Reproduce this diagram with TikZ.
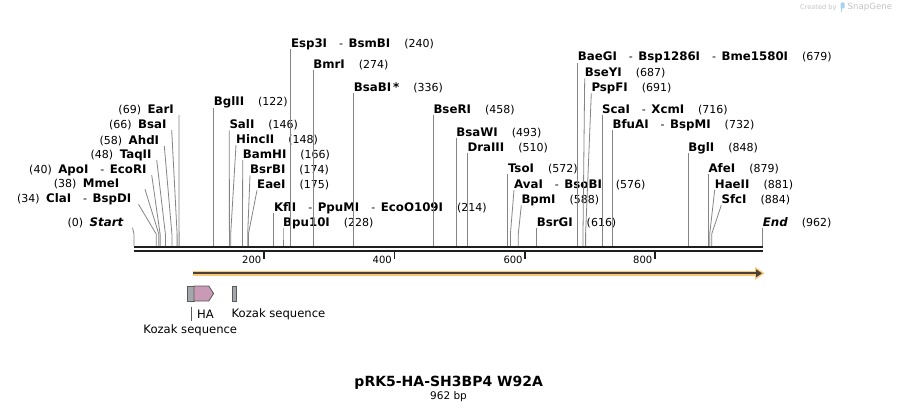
\documentclass[tikz,border=0pt]{standalone}
\usepackage{fontspec}
\setmainfont{DejaVu Sans}
\usetikzlibrary{arrows.meta}
\definecolor{cutgray}{HTML}{858585}
\definecolor{basedark}{HTML}{1E1E1E}
\definecolor{orfouter}{HTML}{F9C978}
\definecolor{orfinner}{HTML}{4A4035}
\definecolor{kozakgray}{HTML}{A4A8AD}
\definecolor{hapink}{HTML}{C99AB6}
\definecolor{featline}{HTML}{5A5A5A}
\definecolor{wmgray}{HTML}{C4C4C4}
\definecolor{wmblue}{HTML}{A6D3F2}
\newcommand\nm[1]{{\fontsize{11.8}{13}\selectfont\bfseries #1}}
\newcommand\sepp{\hspace{12pt}-\hspace{5.5pt}}
\newcommand\rgap{\hspace{14pt}}
\newcommand\lgap{\hspace{6.5pt}}
% right-hand label: id, text x, text y, cut x, content
\newcommand\rcut[5]{%
  \node[lab,anchor=west] (L#1) at (#2,#3) {#5};
  \coordinate (K#1) at (#4,234);
  \coordinate (C#1) at (#4,246);
  \draw[cutline] ([yshift=-6pt]L#1.west) -- (K#1) -- (C#1);
}
% left-hand label: id, text east x, text y, line dx, cut x, content
\newcommand\lcut[6]{%
  \node[lab,anchor=east] (L#1) at (#2,#3) {#6};
  \coordinate (K#1) at (#5,234);
  \coordinate (C#1) at (#5,246);
  \draw[cutline] ([shift={(#4pt,-6pt)}]L#1.east) -- (K#1) -- (C#1);
}
\begin{document}
\begin{tikzpicture}[x=1pt,y=-1pt,
  lab/.style={inner sep=0pt,text height=8.6pt,text depth=0pt,font=\fontsize{11}{12}\selectfont},
  cutline/.style={draw=cutgray,line width=0.8pt},
  tick/.style={draw=basedark,line width=1.8pt},
  ticklab/.style={inner sep=0pt,anchor=east,font=\fontsize{10}{12}\selectfont},
  featlab/.style={inner sep=0pt,font=\fontsize{11.6}{13}\selectfont}]
\useasboundingbox (0,0) rectangle (897,412);
\fill[white] (0,0) rectangle (897,412);

% watermark
\node[inner sep=0pt,anchor=west,text=wmgray,font=\fontsize{6.6}{8}\selectfont] (wm1) at (800,7.3) {Created by};
\fill[wmblue,rounded corners=1pt] (840.5,2.5) rectangle (844.5,8.5);
\fill[wmblue] (840.5,7) rectangle (842.3,12.5);
\node[inner sep=0pt,anchor=west,text=wmgray,font=\fontsize{8.6}{10}\selectfont] (wm2) at (847.5,7.3) {SnapGene};

% backbone
\coordinate (b0) at (134,247);
\coordinate (b1) at (763,247);
\coordinate (b2) at (134,251.3);
\coordinate (b3) at (763,251.3);
\draw[basedark,line width=2.2pt] (b0) -- (b1);
\draw[basedark,line width=2.3pt] (b2) -- (b3);

% ticks
\foreach \tx/\tl in {264/200,394.5/400,525.3/600,655/800}{
  \draw[tick] (\tx,252.2) -- (\tx,258.5);
  \node[ticklab] at (\tx-2.5,259.5) {\tl};
}

% left labels
\lcut{s0}{123.5}{221.7}{9}{134}{(0)\lgap\nm{\itshape Start}}
\lcut{c34}{131.5}{198.3}{7}{156.2}{(34)\lgap\nm{ClaI}\sepp\nm{BspDI}}
\lcut{c38}{119.5}{183.3}{25.5}{158.8}{(38)\lgap\nm{MmeI}}
\lcut{c40}{146.7}{169}{5}{160.1}{(40)\lgap\nm{ApoI}\sepp\nm{EcoRI}}
\lcut{c48}{151.7}{154}{5}{165.4}{(48)\lgap\nm{TaqII}}
\lcut{c58}{159.3}{140}{5}{171.9}{(58)\lgap\nm{AhdI}}
\lcut{c66}{166.7}{124}{5}{177.1}{(66)\lgap\nm{BsaI}}
\lcut{c69}{174}{109}{5}{179.1}{(69)\lgap\nm{EarI}}

% right labels
\rcut{c122}{213.7}{101.7}{213.7}{\nm{BglII}\rgap(122)}
\rcut{c146}{229.3}{124.3}{229.4}{\nm{SalI}\rgap(146)}
\rcut{c148}{236}{139}{230.7}{\nm{HincII}\rgap(148)}
\rcut{c166}{242.7}{154}{242.5}{\nm{BamHI}\rgap(166)}
\rcut{c174}{250}{169.3}{247.7}{\nm{BsrBI}\rgap(174)}
\rcut{c175}{257}{184.3}{248.4}{\nm{EaeI}\rgap(175)}
\rcut{c214}{273.8}{207.3}{273.8}{\nm{KflI}\sepp\nm{PpuMI}\sepp\nm{EcoO109I}\rgap(214)}
\rcut{c228}{283}{222.3}{283}{\nm{Bpu10I}\rgap(228)}
\rcut{c240}{290.8}{43}{290.8}{\nm{Esp3I}\sepp\nm{BsmBI}\rgap(240)}
\rcut{c274}{313.1}{64}{313.1}{\nm{BmrI}\rgap(274)}
\rcut{c336}{353.6}{87}{353.6}{\nm{BsaBI\,*}\rgap(336)}
\rcut{c458}{433.3}{109.3}{433.3}{\nm{BseRI}\rgap(458)}
\rcut{c493}{456.2}{131.7}{456.2}{\nm{BsaWI}\rgap(493)}
\rcut{c510}{467.3}{146.7}{467.3}{\nm{DraIII}\rgap(510)}
\rcut{c572}{507.8}{168.3}{507.8}{\nm{TsoI}\rgap(572)}
\rcut{c576}{514}{184}{510.4}{\nm{AvaI}\sepp\nm{BsoBI}\rgap(576)}
\rcut{c588}{521.3}{199.3}{518.3}{\nm{BpmI}\rgap(588)}
\rcut{c616}{536.6}{222.3}{536.6}{\nm{BsrGI}\rgap(616)}
\rcut{c679}{577.7}{56.7}{577.7}{\nm{BaeGI}\sepp\nm{Bsp1286I}\sepp\nm{Bme1580I}\rgap(679)}
\rcut{c687}{584.7}{72.3}{583.0}{\nm{BseYI}\rgap(687)}
\rcut{c691}{591.3}{87.3}{585.6}{\nm{PspFI}\rgap(691)}
\rcut{c716}{601.9}{109.3}{601.9}{\nm{ScaI}\sepp\nm{XcmI}\rgap(716)}
\rcut{c732}{612.4}{124.3}{612.4}{\nm{BfuAI}\sepp\nm{BspMI}\rgap(732)}
\rcut{c848}{688.2}{147.3}{688.2}{\nm{BglI}\rgap(848)}
\rcut{c879}{708.4}{168.3}{708.4}{\nm{AfeI}\rgap(879)}
\rcut{c881}{714.7}{184}{709.7}{\nm{HaeII}\rgap(881)}
\rcut{c884}{721.3}{199.3}{711.7}{\nm{SfcI}\rgap(884)}
\rcut{c962}{762.7}{222.3}{762.7}{\nm{\itshape End}\rgap(962)}

% ORF arrow
\coordinate (o0) at (192.7,273.3);
\coordinate (o1) at (757,273.3);
\draw[orfouter,line width=5.2pt] (o0) -- (o1);
\fill[orfouter] (755,266.8) -- (764.5,273.3) -- (755,279.8) -- cycle;
\draw[orfinner,line width=1.8pt] (o0) -- (o1);
\fill[orfinner] (756,269.3) -- (762,273.3) -- (756,277.3) -- cycle;

% features
\node[draw=featline,fill=kozakgray,line width=0.8pt,inner sep=0pt,minimum width=6.7pt,minimum height=15pt,anchor=north west] (koz1) at (187.3,286) {};
\draw[draw=featline,fill=hapink,line width=0.8pt] (194,286) -- (208.8,286) -- (213.6,293.5) -- (208.8,301) -- (194,301) -- cycle;
\node[inner sep=0pt,minimum width=19.6pt,minimum height=15pt,anchor=north west] (ha) at (194,286) {};
\node[draw=featline,fill=kozakgray,line width=0.8pt,inner sep=0pt,minimum width=3.7pt,minimum height=15pt,anchor=north west] (koz2) at (232.3,286) {};

\node[featlab] (haL) at (205.5,314.3) {HA};
\node[featlab,anchor=west] (koz2L) at (231.5,314.3) {Kozak sequence};
\node[featlab] (koz1L) at (190.3,330.3) {Kozak sequence};
\draw[featline,line width=0.7pt] (191.5,306.5) -- (191.5,321);

% title
\node[inner sep=0pt,font=\fontsize{14}{16}\selectfont\bfseries] (title) at (448.7,382.5) {pRK5-HA-SH3BP4 W92A};
\node[inner sep=0pt,font=\fontsize{10.5}{12}\selectfont] (bp) at (448.5,396.3) {962 bp};
\end{tikzpicture}
\end{document}
